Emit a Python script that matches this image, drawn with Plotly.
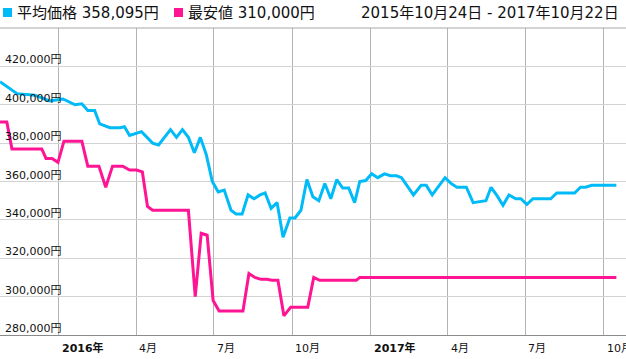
import plotly.graph_objects as go

# ---- data ----
avg_dates = ["2015-10-24","2015-11-13","2015-12-04","2015-12-21","2016-01-06","2016-01-20","2016-01-28",
             "2016-02-04","2016-02-12","2016-02-18","2016-03-01","2016-03-13","2016-03-18","2016-03-24",
             "2016-04-07","2016-04-20","2016-04-27","2016-05-11","2016-05-18","2016-05-25","2016-06-01",
             "2016-06-08","2016-06-15","2016-06-22","2016-06-29","2016-07-06","2016-07-13","2016-07-21",
             "2016-07-27","2016-08-03","2016-08-10","2016-08-17","2016-08-24","2016-08-30","2016-09-06",
             "2016-09-13","2016-09-20","2016-09-28","2016-10-04","2016-10-11","2016-10-18","2016-10-25",
             "2016-11-01","2016-11-08","2016-11-15","2016-11-22","2016-11-29","2016-12-06","2016-12-13",
             "2016-12-19","2016-12-26","2017-01-02","2017-01-09","2017-01-17","2017-01-24","2017-01-31",
             "2017-02-06","2017-02-13","2017-02-20","2017-03-01","2017-03-07","2017-03-14","2017-03-22",
             "2017-03-29","2017-04-05","2017-04-12","2017-04-23","2017-05-01","2017-05-16","2017-05-22",
             "2017-05-29","2017-06-05","2017-06-12","2017-06-20","2017-06-26","2017-07-03","2017-07-10",
             "2017-07-31","2017-08-07","2017-08-28","2017-09-04","2017-09-10","2017-09-17","2017-10-16"]
avg_values = [412000,405800,405000,402000,403000,400000,400500,
              397000,397000,390000,388000,388000,388500,384000,
              386000,380000,379000,387000,383000,387000,383000,
              375000,383000,374000,360000,354500,355500,345000,
              343000,343000,353000,351000,353000,354000,346000,
              349000,331000,341000,341000,345000,361000,352000,
              350000,359000,351000,361000,356600,356600,349000,
              360000,360500,364000,362000,364000,363000,363000,
              362000,357600,353000,358000,358000,353000,358000,
              362000,359000,357000,357000,349000,350000,357000,
              352600,347600,353000,351000,351000,348000,351000,
              351000,354000,354000,357000,357000,358000,358095]

min_dates = ["2015-10-24","2015-11-01","2015-11-07","2015-12-12","2015-12-17","2015-12-24","2015-12-31",
             "2016-01-07","2016-01-28","2016-02-04","2016-02-17","2016-02-25","2016-03-04","2016-03-16",
             "2016-03-24","2016-04-01","2016-04-08","2016-04-14","2016-04-20","2016-06-01","2016-06-09",
             "2016-06-16","2016-06-23","2016-06-30","2016-07-07","2016-08-04","2016-08-11","2016-08-18",
             "2016-08-25","2016-09-01","2016-09-07","2016-09-14","2016-09-21","2016-09-29","2016-10-19",
             "2016-10-26","2016-11-02","2016-12-15","2016-12-19","2017-10-16"]
min_values = [391000,391000,377000,377000,372000,372000,370000,
              381000,381000,368000,368000,357000,368000,368000,
              366000,366000,365000,347000,345000,345000,300000,
              333000,332000,298000,292500,292500,312000,310000,
              309000,309000,308500,308500,290000,294500,294500,
              310000,308500,308500,310000,310000]

y_ticks = [280000,300000,320000,340000,360000,380000,400000,420000]
y_tick_labels = ["280,000円","300,000円","320,000円","340,000円","360,000円","380,000円","400,000円","420,000円"]
x_ticks = ["2016-01-01","2016-04-01","2016-07-01","2016-10-01","2017-01-01","2017-04-01","2017-07-01","2017-10-01"]
x_tick_labels = ["<b>2016年</b>","4月","7月","10月","<b>2017年</b>","4月","7月","10月"]

avg_label = "平均価格 358,095円"
min_label = "最安値 310,000円"
period_label = "2015年10月24日 - 2017年10月22日"

BLUE = "#00bbf7"
PINK = "#ff1493"
FONT = "DejaVu Sans, Noto Sans CJK JP, sans-serif"

fig = go.Figure()
fig.add_trace(go.Scatter(x=avg_dates, y=avg_values, mode="lines",
                         line=dict(color=BLUE, width=3), hoverinfo="skip"))
fig.add_trace(go.Scatter(x=min_dates, y=min_values, mode="lines",
                         line=dict(color=PINK, width=3), hoverinfo="skip"))

fig.update_layout(
    width=626, height=359,
    margin=dict(l=0, r=0, t=28, b=24),
    paper_bgcolor="white", plot_bgcolor="white",
    showlegend=False,
    font=dict(family=FONT, size=11, color="#111"),
    xaxis=dict(type="date", range=["2015-10-24", "2017-10-27 07:00"],
               tickvals=x_ticks, showticklabels=False, ticks="",
               showgrid=True, gridcolor="#b4b4b4", gridwidth=1,
               showline=True, linecolor="#8a8a8a", linewidth=1, zeroline=False),
    yaxis=dict(range=[280000, 440000], tickvals=y_ticks, showticklabels=False, ticks="",
               showgrid=True, gridcolor="#d2d2d2", gridwidth=1, zeroline=False,
               showline=False),
)

# top border
fig.add_shape(type="line", xref="paper", yref="paper", x0=0, x1=1, y0=1, y1=1,
              line=dict(color="#a8a8a8", width=1))

# y tick labels, inside the plot, just above their gridlines
for v, lab in zip(y_ticks, y_tick_labels):
    fig.add_annotation(x=0, xref="paper", y=v, yref="y", text=lab, showarrow=False,
                       xanchor="left", yanchor="bottom", xshift=3, yshift=-2,
                       font=dict(family=FONT, size=11, color="#111"))

# x tick labels, left aligned at the gridlines
for d, lab in zip(x_ticks, x_tick_labels):
    fig.add_annotation(x=d, xref="x", y=0, yref="paper", text=lab, showarrow=False,
                       xanchor="left", yanchor="middle", xshift=1, yshift=-13,
                       font=dict(family=FONT, size=11, color="#111"))

# header legend
fig.add_shape(type="rect", xref="paper", yref="paper", x0=3/626, x1=12/626,
              y0=1 + 11/307, y1=1 + 20/307, fillcolor=BLUE, line=dict(width=0))
fig.add_shape(type="rect", xref="paper", yref="paper", x0=174/626, x1=183/626,
              y0=1 + 11/307, y1=1 + 20/307, fillcolor=PINK, line=dict(width=0))
fig.add_annotation(x=15/626, xref="paper", y=1 + 15/307, yref="paper", text=avg_label,
                   showarrow=False, xanchor="left", yanchor="middle",
                   font=dict(family=FONT, size=15, color="#111"))
fig.add_annotation(x=186/626, xref="paper", y=1 + 15/307, yref="paper", text=min_label,
                   showarrow=False, xanchor="left", yanchor="middle",
                   font=dict(family=FONT, size=15, color="#111"))
fig.add_annotation(x=621/626, xref="paper", y=1 + 15/307, yref="paper", text=period_label,
                   showarrow=False, xanchor="right", yanchor="middle",
                   font=dict(family=FONT, size=15, color="#111"))

fig.write_html("out.html", config={"displayModeBar": False},
               post_script="document.body.style.margin='0';document.body.style.padding='0';")
